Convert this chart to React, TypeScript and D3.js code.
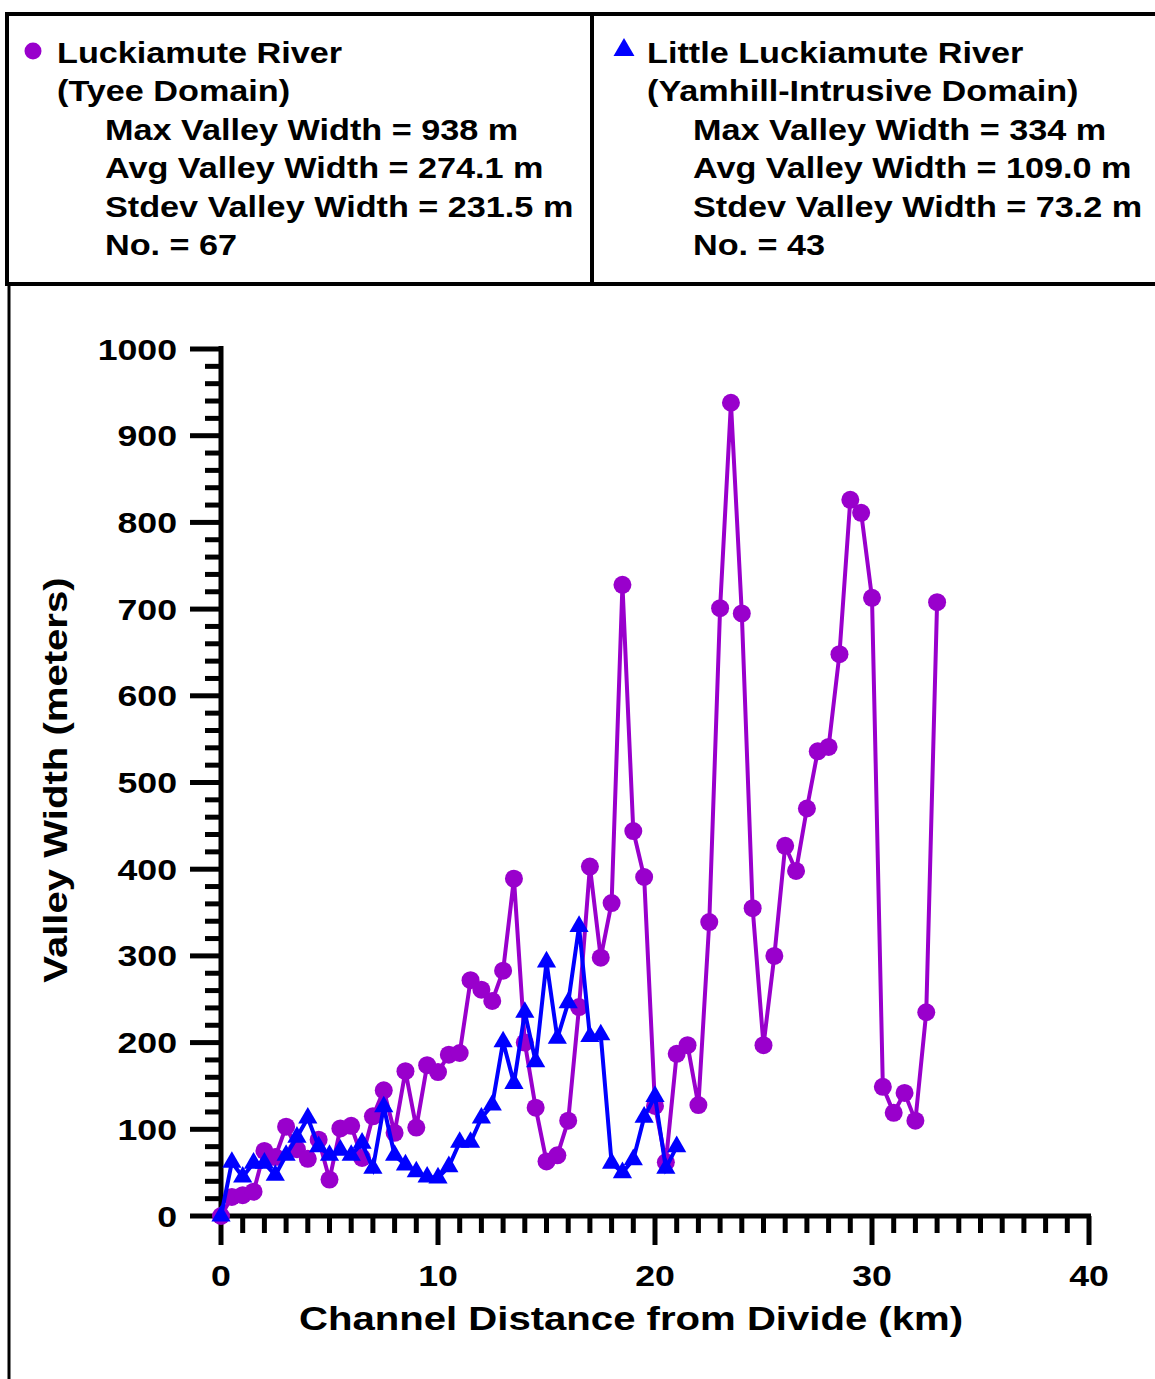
import React from "react";
import * as d3 from "d3";

// Channel distance (km) sampled every 0.5 km
const luckDist: number[] = d3.range(0, 67).map((i) => i * 0.5);
const luckWidth: number[] = [
  0, 22, 24, 28, 75, 68, 103, 77, 66, 88,
  42, 101, 104, 67, 115, 145, 96, 167, 102, 174,
  166, 186, 188, 272, 261, 248, 283, 389, 200, 125,
  63, 70, 110, 241, 403, 298, 361, 728, 444, 391,
  127, 62, 187, 197, 128, 339, 701, 938, 695, 355,
  197, 300, 427, 398, 470, 536, 541, 648, 826, 811,
  713, 149, 119, 142, 110, 235, 708,
];
const littleDist: number[] = d3.range(0, 43).map((i) => i * 0.5);
const littleWidth: number[] = [
  0, 62, 45, 61, 61, 47, 70, 91, 113, 80,
  70, 76, 70, 84, 55, 126, 70, 59, 51, 45,
  44, 57, 85, 85, 113, 128, 201, 153, 235, 178,
  293, 205, 246, 334, 207, 209, 61, 50, 65, 114,
  138, 55, 80,
];

const legendLeft: string[] = [
  "Luckiamute River",
  "(Tyee Domain)",
  "Max Valley Width = 938 m",
  "Avg Valley Width = 274.1 m",
  "Stdev Valley Width = 231.5 m",
  "No. = 67",
];
const legendRight: string[] = [
  "Little Luckiamute River",
  "(Yamhill-Intrusive Domain)",
  "Max Valley Width = 334 m",
  "Avg Valley Width = 109.0 m",
  "Stdev Valley Width = 73.2 m",
  "No. = 43",
];

const xTitle = "Channel Distance from Divide (km)";
const yTitle = "Valley Width (meters)";

const PURPLE = "#9900CC";
const BLUE = "#0000FF";
const FONT = "'Liberation Sans', Arial, Helvetica, sans-serif";

function T(props: {
  x: number;
  y: number;
  size: number;
  anchor?: string;
  rotate?: number;
  sx?: number;
  children: React.ReactNode;
}) {
  const { x, y, size, anchor = "start", rotate = 0, sx = 1.18, children } = props;
  return (
    <text
      transform={`translate(${x},${y}) rotate(${rotate}) scale(${sx},1)`}
      textAnchor={anchor}
      fontSize={size}
      fontWeight="bold"
      fontFamily={FONT}
      fill="#000"
    >
      {children}
    </text>
  );
}

export default function App() {
  const W = 1155;
  const H = 1379;
  const x = d3.scaleLinear().domain([0, 40]).range([221, 1089]);
  const y = d3.scaleLinear().domain([0, 1000]).range([1216, 349]);

  const luck = luckDist.map((d, i) => [d, luckWidth[i]] as [number, number]);
  const little = littleDist.map((d, i) => [d, littleWidth[i]] as [number, number]);
  const line = d3
    .line<[number, number]>()
    .x((d) => x(d[0]))
    .y((d) => y(d[1]));

  const tri = d3.symbol().type(d3.symbolTriangle).size(160)();
  const triLegend = d3.symbol().type(d3.symbolTriangle).size(190)();

  const xTicks = x.ticks(40);
  const yTicks = y.ticks(50);
  const isMajorX = (v: number) => Math.abs(v % 10) < 1e-9;
  const isMajorY = (v: number) => Math.abs(v % 100) < 1e-9;

  const lineY = (i: number) => 63 + i * 38.4;

  return (
    <svg
      width={W}
      height={H}
      style={{ position: "absolute", left: 0, top: 0, background: "#fff" }}
    >
      <rect x={0} y={0} width={W} height={H} fill="#fff" />
      {/* legend boxes */}
      <g stroke="#000" strokeWidth={4} fill="none">
        <line x1={5} y1={14} x2={W} y2={14} />
        <line x1={7} y1={12} x2={7} y2={286} />
        <line x1={592} y1={12} x2={592} y2={286} />
        <line x1={5} y1={284} x2={W} y2={284} />
      </g>
      <line x1={9} y1={284} x2={9} y2={H} stroke="#000" strokeWidth={3} />

      <circle cx={33} cy={51} r={8.5} fill={PURPLE} />
      <path d={triLegend} transform="translate(624,50)" fill={BLUE} />
      {legendLeft.map((s, i) => (
        <T key={"l" + i} x={i < 2 ? 57 : 105} y={lineY(i)} size={29}>
          {s}
        </T>
      ))}
      {legendRight.map((s, i) => (
        <T key={"r" + i} x={i < 2 ? 647 : 693} y={lineY(i)} size={29}>
          {s}
        </T>
      ))}

      {/* axes */}
      <g stroke="#000" strokeWidth={5}>
        <line x1={x(0)} y1={y(1000) - 3} x2={x(0)} y2={y(0)} />
        <line x1={x(0)} y1={y(0)} x2={x(40) + 2} y2={y(0)} />
        {yTicks.map((v) => (
          <line
            key={"yt" + v}
            x1={isMajorY(v) ? x(0) - 31 : x(0) - 16}
            x2={x(0)}
            y1={y(v)}
            y2={y(v)}
          />
        ))}
        {xTicks.map((v) => (
          <line
            key={"xt" + v}
            x1={x(v)}
            x2={x(v)}
            y1={y(0)}
            y2={isMajorX(v) ? y(0) + 29 : y(0) + 17}
          />
        ))}
      </g>
      {yTicks.filter(isMajorY).map((v) => (
        <T key={"yl" + v} x={177} y={y(v) + 10.5} size={29} anchor="end" sx={1.23}>
          {v}
        </T>
      ))}
      {xTicks.filter(isMajorX).map((v) => (
        <T key={"xl" + v} x={x(v)} y={1286} size={29} anchor="middle" sx={1.23}>
          {v}
        </T>
      ))}
      <T x={631} y={1330} size={34} anchor="middle">
        {xTitle}
      </T>
      <T x={67} y={780} size={34} anchor="middle" rotate={-90}>
        {yTitle}
      </T>

      {/* series */}
      <path d={line(luck) || ""} fill="none" stroke={PURPLE} strokeWidth={4} />
      {luck.map((d, i) => (
        <circle key={"c" + i} cx={x(d[0])} cy={y(d[1])} r={9} fill={PURPLE} />
      ))}
      <path d={line(little) || ""} fill="none" stroke={BLUE} strokeWidth={4} />
      {little.map((d, i) => (
        <path
          key={"t" + i}
          d={tri || ""}
          transform={`translate(${x(d[0])},${y(d[1])})`}
          fill={BLUE}
        />
      ))}
    </svg>
  );
}
